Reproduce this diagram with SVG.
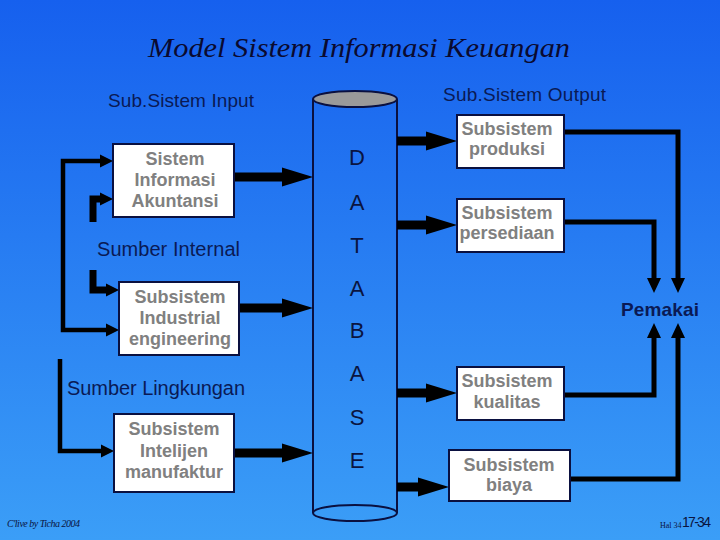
<svg xmlns="http://www.w3.org/2000/svg" width="720" height="540" viewBox="0 0 720 540">
<defs>
<linearGradient id="bg" x1="0" y1="0" x2="0" y2="1">
<stop offset="0" stop-color="#1660ee"/>
<stop offset="1" stop-color="#3b9ef7"/>
</linearGradient>
<marker id="big" markerUnits="userSpaceOnUse" markerWidth="32" markerHeight="20" refX="0" refY="9.5" orient="auto" overflow="visible">
<path d="M0,0 L31,9.5 L0,19 Z" fill="#000"/>
</marker>
<marker id="small" markerUnits="userSpaceOnUse" markerWidth="14" markerHeight="14" refX="0" refY="6.5" orient="auto" overflow="visible">
<path d="M0,0 L13,6.5 L0,13 Z" fill="#000"/>
</marker>
<marker id="out" markerUnits="userSpaceOnUse" markerWidth="16" markerHeight="16" refX="0" refY="7" orient="auto" overflow="visible">
<path d="M0,0 L15,7 L0,14 Z" fill="#000"/>
</marker>
<style>
.box{fill:#fff;stroke:#0a1040;stroke-width:2}
.bt{font-family:"Liberation Sans",Arial,sans-serif;font-size:18px;font-weight:bold;fill:#808080;text-anchor:middle}
.lbl{font-family:"Liberation Sans",Arial,sans-serif;fill:#0a1a55}
.db{font-family:"Liberation Sans",Arial,sans-serif;font-size:22px;fill:#0a1440;text-anchor:middle}
.thick{stroke:#000;stroke-width:9;fill:none;marker-end:url(#big)}
.thin{stroke:#000;stroke-width:4.5;fill:none;marker-end:url(#small)}
.lthick{stroke:#000;stroke-width:7;fill:none;marker-end:url(#small)}
.outc{stroke:#000;stroke-width:5;fill:none;marker-end:url(#out)}
</style>
</defs>
<rect x="0" y="0" width="720" height="540" fill="url(#bg)"/>

<text x="359" y="57" font-family="'Liberation Serif',serif" font-style="italic" font-size="28" fill="#0a0a30" text-anchor="middle" textLength="422" lengthAdjust="spacingAndGlyphs">Model Sistem Informasi Keuangan</text>

<text class="lbl" x="108" y="107" font-size="19" textLength="146">Sub.Sistem Input</text>
<text class="lbl" x="443" y="101" font-size="19" textLength="163">Sub.Sistem Output</text>
<text class="lbl" x="97" y="256" font-size="20" textLength="143">Sumber Internal</text>
<text class="lbl" x="67" y="395" font-size="20" textLength="178">Sumber Lingkungan</text>

<g id="database">
<path d="M313,99 V513 M397,99 V513" stroke="#0a1040" stroke-width="2" fill="none"/>
<ellipse cx="355" cy="513" rx="42" ry="8" fill="none" stroke="#0a1040" stroke-width="2"/>
<ellipse cx="355" cy="99" rx="42" ry="8" fill="#9a9a9a" stroke="#0a1040" stroke-width="2"/>
<text class="db" x="357" y="165">D</text>
<text class="db" x="357" y="210">A</text>
<text class="db" x="357" y="253">T</text>
<text class="db" x="357" y="296">A</text>
<text class="db" x="357" y="338">B</text>
<text class="db" x="357" y="381">A</text>
<text class="db" x="357" y="425">S</text>
<text class="db" x="357" y="468">E</text>
</g>

<g id="connectors">
<path class="thin" d="M63,245 V161 H100"/>
<path class="thin" d="M63,245 V330 H106"/>
<path class="lthick" d="M93,222 V199 H100"/>
<path class="lthick" d="M93,270 V290 H106"/>
<path class="thin" d="M60,359 V451 H101"/>
<path class="thick" d="M234,177 H282"/>
<path class="thick" d="M239,308 H282"/>
<path class="thick" d="M234,453 H282"/>
<path class="thick" d="M397,141 H426"/>
<path class="thick" d="M397,225 H426"/>
<path class="thick" d="M397,393 H426"/>
<path class="thick" d="M397,487 H418"/>
<path class="outc" d="M564,132 H678 V278"/>
<path class="outc" d="M564,222 H654 V278"/>
<path class="outc" d="M564,395 H654 V338"/>
<path class="outc" d="M570,479 H678 V338"/>
</g>

<g id="sia">
<rect class="box" x="113" y="144" width="121" height="73"/>
<text class="bt" x="175" y="165">Sistem</text>
<text class="bt" x="175" y="186">Informasi</text>
<text class="bt" x="175" y="207">Akuntansi</text>
</g>
<g id="industrial">
<rect class="box" x="119" y="282" width="120" height="73"/>
<text class="bt" x="180" y="303">Subsistem</text>
<text class="bt" x="180" y="324">Industrial</text>
<text class="bt" x="180" y="345">engineering</text>
</g>
<g id="intelijen">
<rect class="box" x="114" y="414" width="120" height="78"/>
<text class="bt" x="174" y="435">Subsistem</text>
<text class="bt" x="174" y="457">Intelijen</text>
<text class="bt" x="174" y="478">manufaktur</text>
</g>
<g id="produksi">
<rect class="box" x="457" y="115" width="107" height="53"/>
<text class="bt" x="507" y="135">Subsistem</text>
<text class="bt" x="507" y="155">produksi</text>
</g>
<g id="persediaan">
<rect class="box" x="457" y="199" width="107" height="53"/>
<text class="bt" x="507" y="219">Subsistem</text>
<text class="bt" x="507" y="239">persediaan</text>
</g>
<g id="kualitas">
<rect class="box" x="457" y="367" width="107" height="53"/>
<text class="bt" x="507" y="387">Subsistem</text>
<text class="bt" x="507" y="408">kualitas</text>
</g>
<g id="biaya">
<rect class="box" x="449" y="450" width="121" height="51"/>
<text class="bt" x="509" y="471">Subsistem</text>
<text class="bt" x="509" y="491">biaya</text>
</g>
<g id="pemakai">
<text class="lbl" x="621" y="316" font-size="19" font-weight="bold" textLength="78">Pemakai</text>
</g>

<text x="7" y="527" font-family="'Liberation Serif',serif" font-style="italic" font-size="10" fill="#0a1440" textLength="73">C'live by Ticha 2004</text>
<text x="660" y="528" font-family="'Liberation Serif',serif" font-size="8" fill="#0a1440">Hal 34</text>
<text x="682" y="527" font-family="'Liberation Sans',Arial,sans-serif" font-size="14" fill="#0a1440" textLength="29">17-34</text>
</svg>
